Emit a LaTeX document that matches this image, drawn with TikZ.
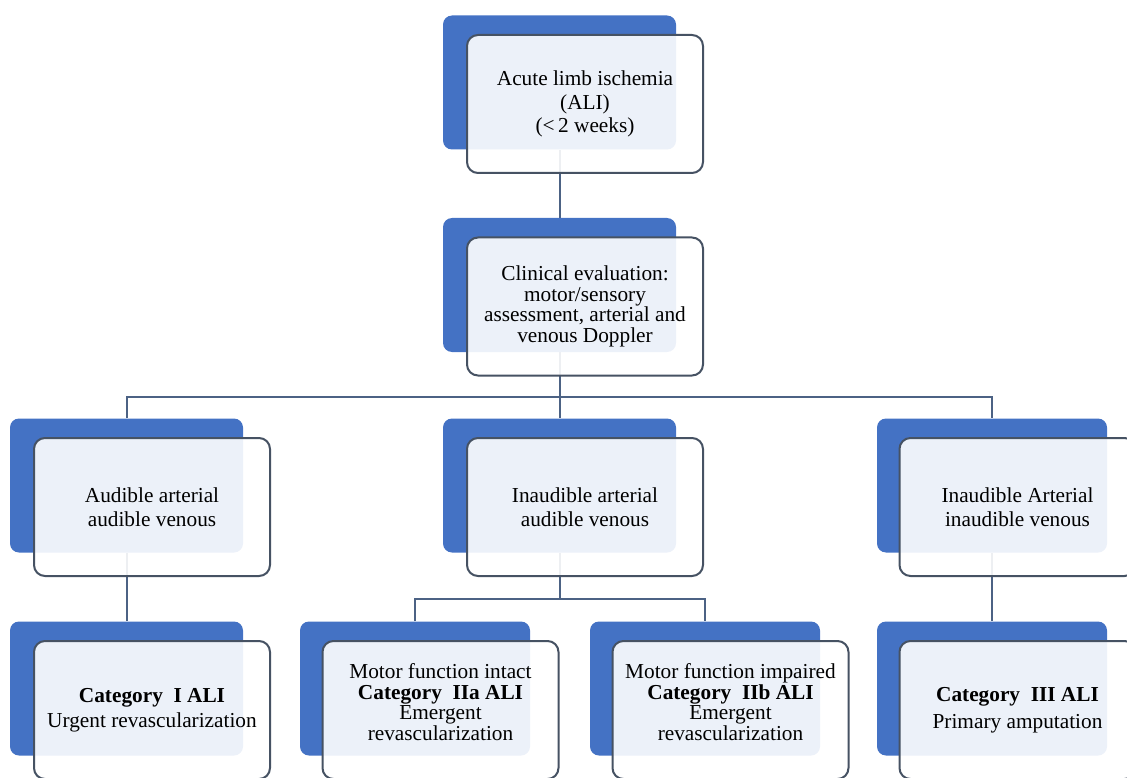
\documentclass[tikz,border=0pt]{standalone}
\usepackage{fontspec}
\setmainfont{Liberation Serif}
\usepackage{xcolor}
\usepackage{tikz}
\usetikzlibrary{positioning,calc,backgrounds}
\definecolor{aliblue}{HTML}{4472C4}
\definecolor{framegray}{HTML}{465263}
\definecolor{linegray}{HTML}{4C6284}
\tikzset{%
     backbox/.style = { fill=aliblue, rounded corners=9pt, minimum width=233pt, minimum height=134pt, inner sep=0pt },
    frontbox/.style = { draw=framegray, line width=2pt, fill=white, fill opacity=0.9, text opacity=1,
                        rounded corners=11pt, minimum width=236pt, minimum height=138pt, inner sep=0pt,
                        align=center, font=\fontsize{21.3}{23.5}\selectfont },
   tightbox/.style = { frontbox, font=\fontsize{21.3}{20.5}\selectfont },
   connector/.style = { draw=linegray, line width=2pt }
}

\begin{document}
\begin{tikzpicture}[x=1pt,y=-1pt]
\useasboundingbox (0,0) rectangle (1127,778);
\clip (0,0) rectangle (1127,778);
% top
\node[backbox] (ali-back) at (559.5,82.5) {};
\node[frontbox] (ali) at ($(ali-back)+(25.5,21.5)$) {Acute limb ischemia\\(ALI)\\(<\,2 weeks)};
\node[backbox] (eval-back) at (559.5,285) {};
\node[tightbox] (eval) at ($(eval-back)+(25.5,21.5)$) {Clinical evaluation:\\motor/sensory\\assessment, arterial and\\venous Doppler};
% second row
\node[backbox] (aud-back) at (126.5,485.5) {};
\node[frontbox] (aud) at ($(aud-back)+(25.5,21.5)$) {Audible arterial\\audible venous};
\node[backbox] (ina-back) at (559.5,485.5) {};
\node[frontbox] (ina) at ($(ina-back)+(25.5,21.5)$) {Inaudible arterial\\audible venous};
\node[backbox,minimum width=230pt] (inin-back) at (992,485.5) {};
\node[frontbox] (inin) at ($(inin-back)+(25.5,21.5)$) {Inaudible Arterial\\inaudible venous};
% categories
\node[backbox] (cat1-back) at (126.5,688.5) {};
\node[frontbox] (cat1) at ($(cat1-back)+(25.5,21.5)$) {\textbf{Category\ \ I ALI}\\[1pt]Urgent revascularization};
\node[backbox,minimum width=230pt] (cat2a-back) at (415,688.5) {};
\node[tightbox,text depth=16pt] (cat2a) at ($(cat2a-back)+(25.5,21.5)$) {Motor function intact\\\textbf{Category\ \ IIa ALI}\\Emergent\\revascularization};
\node[backbox,minimum width=230pt] (cat2b-back) at (705,688.5) {};
\node[tightbox,text depth=16pt] (cat2b) at ($(cat2b-back)+(25.5,21.5)$) {Motor function impaired\\\textbf{Category\ \ IIb ALI}\\Emergent\\revascularization};
\node[backbox,minimum width=230pt] (cat3-back) at (992,688.5) {};
\node[frontbox] (cat3) at ($(cat3-back)+(25.5,21.5)$) {\textbf{Category\ \ III ALI}\\[3pt]Primary amputation};

\coordinate (split) at ($(eval.south)!0.5!(ina-back.north)$);
\coordinate (subsplit) at ($(ina.south)!0.5!(cat2a-back.north)$);
\begin{scope}[on background layer]
\draw[connector] (ali-back.south) -- (eval-back.north);
\draw[connector] (eval-back.south) -- (ina-back.north);
\draw[connector] (aud-back.north) |- (split) -| (inin-back.north);
\draw[connector] (aud-back.south) -- (cat1-back.north);
\draw[connector] (inin-back.south) -- (cat3-back.north);
\draw[connector] (ina-back.south) -- (ina-back.south |- subsplit);
\draw[connector] (cat2a-back.north) |- (ina-back.south |- subsplit) -| (cat2b-back.north);
\end{scope}
\end{tikzpicture}
\end{document}
